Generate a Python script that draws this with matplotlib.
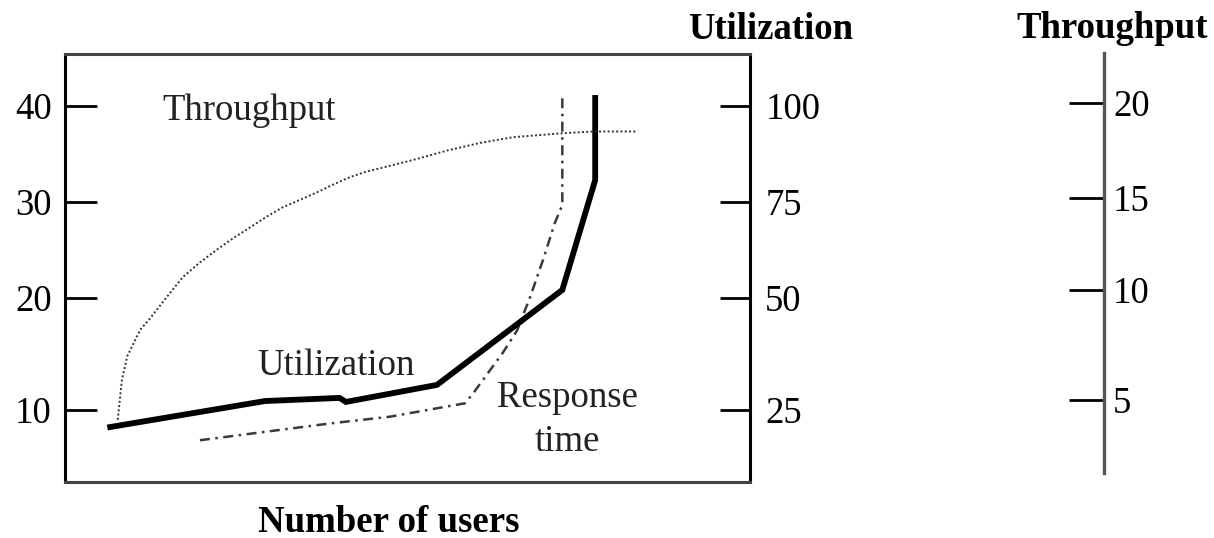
import matplotlib
matplotlib.use('Agg')
import matplotlib.pyplot as plt
import numpy as np

W, H = 1214, 538

# tick values of the three scales
resp_ticks = [10, 20, 30, 40]
util_ticks = [25, 50, 75, 100]
thr_ticks = [5, 10, 15, 20]
# pixel rows where the reference puts those ticks (the spacing is uneven)
box_tick_rows = [410, 298, 202, 106]
thr_tick_rows = [400, 290, 198, 103]

# Response time (left axis), x = number of users on a 0..100 scale
resp_x = [19.7, 38.7, 47.4, 58.4, 59.6, 63.9, 66.0, 67.9, 69.8, 71.5, 72.6, 72.6]
resp_y = [7.3, 8.8, 9.4, 10.6, 11.5, 15.1, 17.1, 20.1, 24.0, 27.8, 29.7, 40.8]

# Utilization (right axis, %)
util_x = [6.6, 29.2, 40.1, 41.0, 54.3, 72.6, 77.4, 77.4]
util_y = [21.2, 27.0, 27.7, 26.8, 30.6, 52.1, 80.7, 102.1]

# Throughput (far right axis)
thr_x = [7.7, 8.0, 8.3, 9.1, 11.0, 12.4, 14.9, 17.2, 19.7, 22.2, 24.5, 27.0,
         29.5, 31.8, 34.3, 36.8, 39.1, 41.6, 44.1, 46.4, 50.8, 55.8, 60.6,
         65.4, 72.3, 77.1, 83.5]
thr_y = [4.1, 5.0, 5.9, 7.0, 8.2, 8.7, 9.7, 10.7, 11.5, 12.2, 12.8, 13.4,
         14.0, 14.5, 14.9, 15.3, 15.7, 16.1, 16.4, 16.6, 17.0, 17.5, 17.9,
         18.2, 18.4, 18.5, 18.5]


def row_scale(vals, rows):
    # piecewise linear scale so ticks land where they are in the picture
    v = np.asarray(vals, float)
    h = -np.asarray(rows, float)
    v = np.r_[v[0] - 100 * (v[1] - v[0]), v, v[-1] + 100 * (v[-1] - v[-2])]
    h = np.r_[h[0] - 100 * (h[1] - h[0]), h, h[-1] + 100 * (h[-1] - h[-2])]
    fwd = lambda x: np.interp(x, v, h)
    inv = lambda y: np.interp(y, h, v)
    return fwd, inv


plt.rcParams['font.family'] = ['Liberation Serif', 'DejaVu Serif']
plt.rcParams['font.size'] = 26.5

box_top, box_bot, box_l, box_r = 54, 482, 65, 750
fig = plt.figure(figsize=(W / 100, H / 100), dpi=100)
rect = [box_l / W, 1 - box_bot / H, (box_r - box_l) / W, (box_bot - box_top) / H]
ax = fig.add_axes(rect)

resp_fns = row_scale(resp_ticks, box_tick_rows)
util_fns = row_scale(util_ticks, box_tick_rows)
thr_fns = row_scale(thr_ticks, thr_tick_rows)

ax.set_xlim(0, 100)
ax.set_yscale('function', functions=resp_fns)
ax.set_ylim(resp_fns[1](-box_bot), resp_fns[1](-box_top))
ax.set_xticks([])
ax.set_yticks(resp_ticks)
ax.tick_params(axis='y', direction='in', length=23, width=2, pad=9.5, left=True, right=False)
for side in ['left', 'right']:
    ax.spines[side].set_linewidth(2.2)
    ax.spines[side].set_color('black')
for side in ['top', 'bottom']:
    ax.spines[side].set_linewidth(2.2)
    ax.spines[side].set_color('#444444')

ax_u = ax.twinx()
ax_u.set_yscale('function', functions=util_fns)
ax_u.set_ylim(util_fns[1](-box_bot), util_fns[1](-box_top))
ax_u.set_yticks(util_ticks)
ax_u.tick_params(axis='y', direction='in', length=21.6, width=2, pad=11)
for s in ax_u.spines.values():
    s.set_visible(False)

ax_t = ax.twinx()
ax_t.set_yscale('function', functions=thr_fns)
ax_t.set_ylim(thr_fns[1](-box_bot), thr_fns[1](-box_top))
ax_t.set_yticks([])
for s in ax_t.spines.values():
    s.set_visible(False)

ax.plot(resp_x, resp_y, color='#3a3a3a', lw=1.8, linestyle=(0, (4, 2.2, 1, 2.2)))
ax_u.plot(util_x, util_y, color='black', lw=4.2, solid_joinstyle='miter')
ax_t.plot(thr_x, thr_y, color='#333333', lw=1.4, linestyle=(0, (1, 1.2)))

# separate throughput scale
ax3 = fig.add_axes([1000 / W, rect[1], 104 / W, rect[3]])
ax3.patch.set_alpha(0)
ax3.set_yscale('function', functions=thr_fns)
ax3.set_ylim(thr_fns[1](-box_bot), thr_fns[1](-box_top))
ax3.set_xticks([])
ax3.set_yticks(thr_ticks)
ax3.yaxis.tick_right()
ax3.tick_params(axis='y', direction='in', length=25, width=2, pad=6.5)
for side in ['left', 'top', 'bottom']:
    ax3.spines[side].set_visible(False)
ax3.spines['right'].set_color('#555555')
ax3.spines['right'].set_linewidth(2.4)
ax3.spines['right'].set_bounds(thr_fns[1](-473), thr_fns[1](-53))

# labels inside the plot
fig.text(162 / W, 1 - 120 / H, 'Throughput', ha='left', va='baseline', color='#222222')
fig.text(257 / W, 1 - 375 / H, 'Utilization', ha='left', va='baseline', color='#222222')
fig.text(567 / W, 1 - 407 / H, 'Response', ha='center', va='baseline', color='#222222')
fig.text(567 / W, 1 - 451 / H, 'time', ha='center', va='baseline', color='#222222')

# axis titles
fig.text(771 / W, 1 - 39 / H, 'Utilization', ha='center', va='baseline', fontweight='bold')
fig.text(1112 / W, 1 - 38 / H, 'Throughput', ha='center', va='baseline', fontweight='bold')
fig.text(389 / W, 1 - 532 / H, 'Number of users', ha='center', va='baseline', fontweight='bold')

fig.savefig('out.png', dpi=100)
